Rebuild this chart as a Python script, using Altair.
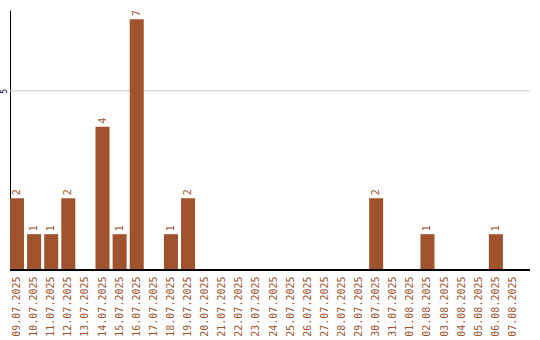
import altair as alt
import pandas as pd

# Daily counts, 09.07.2025 – 07.08.2025
dates = [
    "09.07.2025", "10.07.2025", "11.07.2025", "12.07.2025", "13.07.2025",
    "14.07.2025", "15.07.2025", "16.07.2025", "17.07.2025", "18.07.2025",
    "19.07.2025", "20.07.2025", "21.07.2025", "22.07.2025", "23.07.2025",
    "24.07.2025", "25.07.2025", "26.07.2025", "27.07.2025", "28.07.2025",
    "29.07.2025", "30.07.2025", "31.07.2025", "01.08.2025", "02.08.2025",
    "03.08.2025", "04.08.2025", "05.08.2025", "06.08.2025", "07.08.2025",
]
counts = [2, 1, 1, 2, 0, 4, 1, 7, 0, 1, 2, 0, 0, 0, 0,
          0, 0, 0, 0, 0, 0, 2, 0, 0, 1, 0, 0, 0, 1, 0]
grid_values = [5]

df = pd.DataFrame({"date": dates, "count": counts})
grid_df = pd.DataFrame({"count": grid_values})

BAR = "#A0522D"
FONT = "DejaVu Sans Mono"
W, H = 520, 260
YMAX = 7.26

x = alt.X(
    "date:N",
    sort=dates,
    scale=alt.Scale(range=[0, 510], paddingInner=0.18, paddingOuter=0),
    axis=alt.Axis(
        title=None, labelAngle=-90, labelColor=BAR, labelFont=FONT,
        labelFontSize=10, ticks=False, domain=False, grid=False,
        labelPadding=6, labelOverlap=False,
    ),
)
y = alt.Y(
    "count:Q",
    scale=alt.Scale(domain=[0, YMAX], nice=False),
    axis=alt.Axis(
        title=None, values=grid_values, ticks=False, grid=False,
        labelAngle=-90, labelFont=FONT, labelFontSize=8, labelColor="#000",
        labelPadding=2, labelAlign="center", labelBaseline="bottom",
        domainColor="#000",
    ),
)

# horizontal grid line spanning the full plot width, beneath the bars
grid = alt.Chart(grid_df).mark_rule(color="#c8c8c8", strokeWidth=1).encode(
    x=alt.value(0), x2=alt.value(W), y=y,
)

bars = alt.Chart(df).mark_bar(color=BAR).encode(x=x, y=y)

labels = alt.Chart(df).transform_filter("datum.count > 0").mark_text(
    angle=270, align="left", baseline="middle", dx=3, color=BAR,
    font=FONT, fontSize=10,
).encode(x=x, y=y, text="count:Q")

baseline = alt.Chart(df).mark_rule(color="#000", strokeWidth=1).encode(
    x=alt.value(0), x2=alt.value(W), y=alt.value(H)
)

chart = alt.layer(grid, bars, labels, baseline).properties(
    width=W, height=H,
    autosize=alt.AutoSizeParams(type="none"),
    padding={"left": 10, "top": 10, "right": 10, "bottom": 70},
).configure_view(stroke=None)

chart.save("out.html", embed_options={"renderer": "svg", "actions": False})
